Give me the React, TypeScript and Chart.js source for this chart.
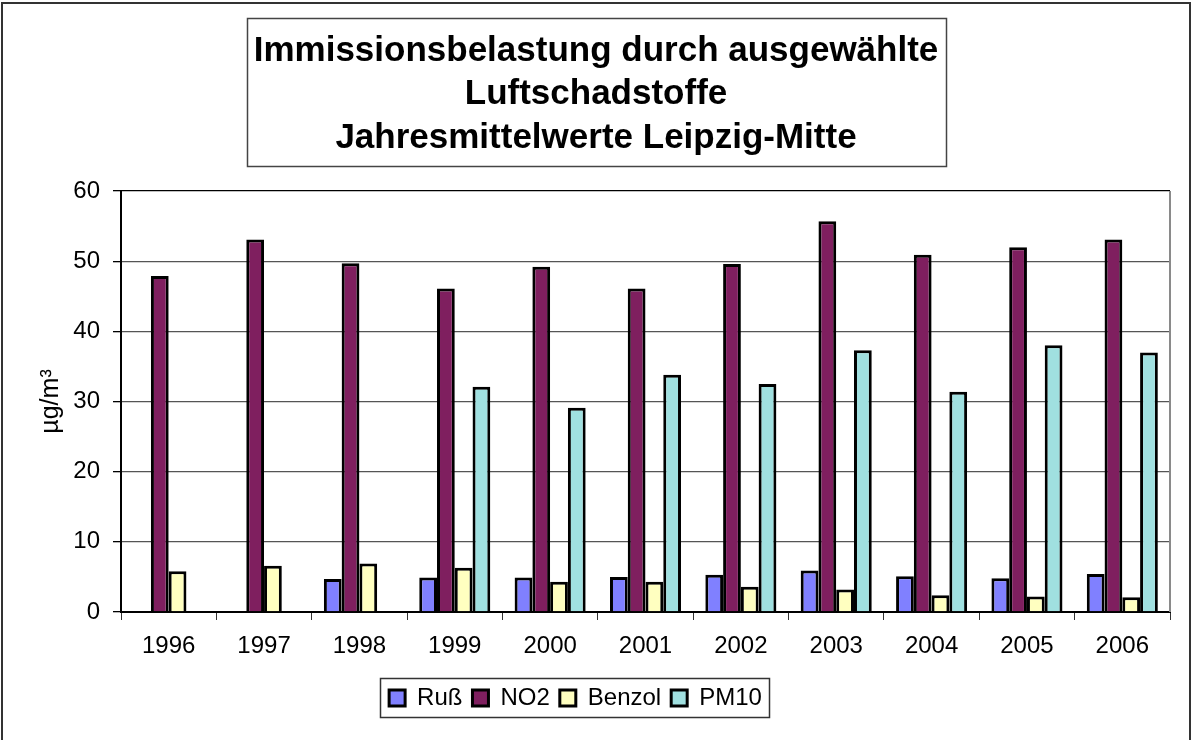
import React, { useEffect, useRef } from "react";
import { Chart, registerables } from "chart.js";

Chart.register(...registerables);

const years = ["1996", "1997", "1998", "1999", "2000", "2001", "2002", "2003", "2004", "2005", "2006"];
const russ = [null, null, 4.7, 4.9, 4.9, 5.0, 5.3, 5.9, 5.1, 4.8, 5.4];
const no2 = [47.9, 53.1, 49.7, 46.1, 49.2, 46.1, 49.6, 55.7, 50.9, 52.0, 53.1];
const benzol = [5.8, 6.6, 6.9, 6.3, 4.3, 4.3, 3.6, 3.2, 2.4, 2.2, 2.1];
const pm10 = [null, null, null, 32.1, 29.1, 33.8, 32.5, 37.3, 31.4, 38.0, 37.0];
const seriesNames = ["Ruß", "NO2", "Benzol", "PM10"];
const titleLines = [
  "Immissionsbelastung durch ausgewählte",
  "Luftschadstoffe",
  "Jahresmittelwerte Leipzig-Mitte",
];
const yAxisTitle = "µg/m³";

const FONT = "'Liberation Sans', Arial, Helvetica, sans-serif";
const TITLE_SIZE = 35;

const framePlugin = {
  id: "frames",
  afterLayout(chart: any) {
    const lg = chart.legend;
    if (lg) {
      lg.left -= 41;
    }
  },
  beforeDraw(chart: any) {
    const ctx = chart.ctx;
    ctx.save();
    ctx.fillStyle = "#fff";
    ctx.fillRect(0, 0, chart.width, chart.height);
    ctx.restore();
  },
  afterDraw(chart: any) {
    const ctx = chart.ctx;
    ctx.save();
    // outer frame
    ctx.strokeStyle = "#333";
    ctx.lineWidth = 2;
    ctx.strokeRect(2, 3, chart.width - 4, chart.height + 10);
    // plot area right border
    const ca = chart.chartArea;
    ctx.strokeStyle = "#8a8a8a";
    ctx.lineWidth = 2;
    ctx.beginPath();
    ctx.moveTo(ca.right, ca.top);
    ctx.lineTo(ca.right, ca.bottom);
    ctx.stroke();
    // title box
    const tb = chart.titleBlock;
    if (tb) {
      ctx.font = "bold " + TITLE_SIZE + "px " + FONT;
      let w = 0;
      titleLines.forEach((l) => (w = Math.max(w, ctx.measureText(l).width)));
      const cx = (tb.left + tb.right) / 2;
      ctx.strokeStyle = "#444";
      ctx.lineWidth = 1.5;
      ctx.strokeRect(Math.round(cx - w / 2 - 7) + 0.5, tb.top + 0.5, Math.round(w + 14), 148);
    }
    // legend box
    const lg = chart.legend;
    if (lg && lg.legendHitBoxes && lg.legendHitBoxes.length) {
      const hb = lg.legendHitBoxes;
      let l = Infinity, r = -Infinity, t = Infinity, b = -Infinity;
      hb.forEach((h: any) => {
        l = Math.min(l, h.left);
        r = Math.max(r, h.left + h.width);
        t = Math.min(t, h.top);
        b = Math.max(b, h.top + h.height);
      });
      ctx.strokeStyle = "#333";
      ctx.lineWidth = 1.5;
      ctx.strokeRect(Math.round(l - 9) + 0.5, Math.round(t - 8) + 0.5, Math.round(r - l + 16), Math.round(b - t + 15));
    }
    ctx.restore();
  },
};

export default function App() {
  const ref = useRef<HTMLCanvasElement | null>(null);
  useEffect(() => {
    if (!ref.current) return;
    Chart.defaults.font.family = FONT;
    Chart.defaults.color = "#000";
    const common = { borderColor: "#000", borderWidth: 3, categoryPercentage: 0.745, barPercentage: 1 };
    const chart = new Chart(ref.current, {
      type: "bar",
      data: {
        labels: years,
        datasets: [
          { label: seriesNames[0], data: russ, backgroundColor: "#8080FF", ...common },
          { label: seriesNames[1], data: no2, backgroundColor: "#7F1F5F", ...common },
          { label: seriesNames[2], data: benzol, backgroundColor: "#FFFFC0", ...common },
          { label: seriesNames[3], data: pm10, backgroundColor: "#A0E0E0", ...common },
        ],
      },
      options: {
        responsive: false,
        animation: false,
        layout: { padding: { top: 18, left: 22, right: 22, bottom: 20 } },
        plugins: {
          tooltip: { enabled: false },
          title: {
            display: true,
            text: titleLines,
            color: "#000",
            font: { size: TITLE_SIZE, weight: "bold", family: FONT, lineHeight: "43.5px" },
            padding: { top: 11.5, bottom: 31 },
          },
          legend: {
            display: true,
            position: "bottom",
            labels: {
              color: "#000",
              font: { size: 24, family: FONT },
              boxWidth: 16,
              boxHeight: 16,
              padding: 10,
            },
          },
        },
        scales: {
          x: {
            grid: {
              display: true,
              drawOnChartArea: false,
              drawTicks: true,
              tickLength: 8,
              offset: true,
              color: "#333",
            },
            border: { display: true, color: "#000", width: 2 },
            ticks: { font: { size: 24, family: FONT }, color: "#000", padding: 12, maxRotation: 0 },
            afterFit(scale: any) {
              scale.height = 64;
            },
          },
          y: {
            min: 0,
            max: 60,
            grid: {
              color: (c: any) => (c.tick && c.tick.value === 60 ? "#000" : "#555"),
              lineWidth: 1.3,
              tickLength: 8,
              tickColor: "#000",
            },
            border: { display: true, color: "#000", width: 2 },
            ticks: { stepSize: 10, font: { size: 24, family: FONT }, color: "#000", padding: 13 },
            title: {
              display: true,
              text: yAxisTitle,
              font: { size: 25, family: FONT },
              color: "#000",
              padding: { top: 14, bottom: 0 },
            },
            afterFit(scale: any) {
              scale.width = 99;
            },
          },
        },
      },
      plugins: [framePlugin],
    } as any);
    return () => chart.destroy();
  }, []);
  return (
    <div style={{ position: "absolute", left: 0, top: 0, width: 1192, height: 740, background: "#fff" }}>
      <canvas ref={ref} width={1192} height={740} style={{ width: 1192, height: 740, display: "block" }} />
    </div>
  );
}
